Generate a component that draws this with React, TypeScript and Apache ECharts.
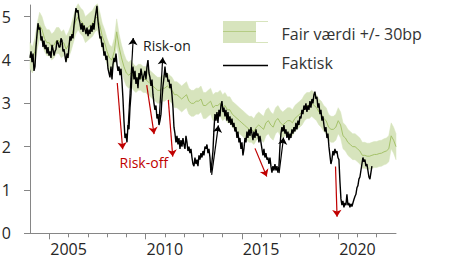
import React, { useEffect, useRef } from "react";
import * as echarts from "echarts";

// x-axis tick labels (years)
const yearLabels = [2005, 2010, 2015, 2020];
const minorYearTicks = [2004, 2005, 2006, 2007, 2008, 2009, 2010, 2011, 2012, 2013, 2014, 2015, 2016, 2017, 2018, 2019, 2020, 2021];
const majorYearTicks = [2004, 2009, 2014, 2019];
const yTickValues = [0, 1, 2, 3, 4, 5];

// Actual (Faktisk) series, regularly sampled
const actualStart = 2003.0;
const actualStep = 0.0519;
const actualValues = [
  4.05, 4.2, 3.95, 4.15, 3.75, 3.85, 4.3, 4.6, 4.85, 4.7,
  4.75, 4.45, 4.55, 4.3, 4.45, 4.25, 4.35, 4.15, 4.3, 4.1,
  4.2, 4.05, 4.35, 4.25, 4.1, 4.2, 4.25, 4.45, 4.4, 4.3,
  4.3, 4.5, 4.45, 4.2, 4.25, 4.1, 3.95, 4.15, 4.05, 4.3,
  4.55, 4.45, 4.6, 4.5, 4.8, 5.0, 5.2, 5.1, 5.15, 4.95,
  4.85, 4.7, 4.85, 4.65, 4.8, 4.7, 4.6, 4.75, 4.55, 4.7,
  4.6, 4.8, 4.65, 4.85, 4.7, 4.95, 5.1, 5.25, 4.9, 4.7,
  4.5, 4.55, 4.3, 4.4, 4.1, 4.2, 4.0, 4.1, 3.8, 3.7,
  3.6, 3.85, 3.55, 3.9, 4.05, 3.95, 4.15, 3.9, 3.75, 3.85,
  3.65, 3.8, 3.5, 3.1, 2.6, 2.2, 2.3, 2.1, 2.5, 2.4,
  2.9, 3.2, 3.7, 3.85, 3.55, 3.75, 3.45, 3.6, 3.35, 3.7,
  3.55, 3.8, 3.65, 3.5, 3.65, 3.75, 3.55, 3.85, 4.0, 3.7,
  3.6, 3.4, 3.55, 3.2, 3.0, 2.85, 2.95, 2.65, 2.75, 2.5,
  2.6, 2.75, 3.1, 3.4, 3.6, 3.85, 3.6, 3.7, 3.5, 3.55,
  3.35, 3.45, 3.2, 2.9, 2.45, 2.3, 2.1, 2.25, 2.05, 2.2,
  1.95, 2.15, 2.0, 2.2, 2.05, 1.95, 2.25, 2.1, 1.9, 2.0,
  1.85, 1.95, 1.75, 1.6, 1.55, 1.75, 1.6, 1.7, 1.55, 1.8,
  1.7, 1.85, 1.75, 1.9, 1.8, 2.0, 1.95, 2.05, 1.85, 1.95,
  1.75, 1.4, 1.65, 1.9, 2.4, 2.75, 2.6, 2.8, 2.55, 2.85,
  2.7, 2.95, 3.05, 2.8, 2.9, 2.7, 2.85, 2.6, 2.8, 2.55,
  2.7, 2.5, 2.65, 2.45, 2.55, 2.35, 2.45, 2.2, 2.35, 2.1,
  2.2, 1.95, 2.1, 1.8, 1.95, 2.2, 2.1, 2.35, 2.2, 2.4,
  2.25, 2.45, 2.3, 2.15, 2.35, 2.2, 2.4, 2.25, 2.3, 2.1,
  2.25, 2.1, 1.95, 1.8, 1.95, 1.75, 1.85, 1.7, 1.75, 1.6,
  1.75, 1.55, 1.4, 1.55, 1.45, 1.6, 1.45, 1.55, 1.4, 1.55,
  2.0, 2.3, 2.45, 2.35, 2.5, 2.3, 2.4, 2.2, 2.35, 2.15,
  2.3, 2.2, 2.4, 2.3, 2.45, 2.35, 2.55, 2.4, 2.6, 2.5,
  2.7, 2.65, 2.85, 2.75, 2.95, 2.85, 3.0, 2.8, 2.95, 2.85,
  3.05, 2.9, 3.1, 3.0, 3.2, 3.27, 3.1, 3.15, 2.9, 3.0,
  2.75, 2.85, 2.6, 2.7, 2.5, 2.35, 2.45, 2.2, 2.3, 2.0,
  1.8, 1.6, 1.7, 1.9, 1.8, 1.95, 1.85, 1.9, 1.75, 1.7,
  1.2, 0.8, 0.65, 0.75, 0.6, 0.7, 0.65, 0.9, 0.65, 0.7,
  0.6, 0.68, 0.62, 0.7, 0.78, 0.85, 0.9, 1.05, 1.1, 1.25,
  1.3, 1.45, 1.6, 1.75, 1.65, 1.7, 1.55, 1.6, 1.45, 1.3,
  1.25, 1.4, 1.55
];

// Fair value (Fair værdi), sampled every 1/8 year
const fairStart = 2003.0;
const fairStep = 0.125;
const fairValues = [
  4.1, 4.0, 4.2, 4.55, 4.8, 4.7, 4.5, 4.4, 4.4, 4.3,
  4.35, 4.45, 4.45, 4.35, 4.4, 4.25, 4.35, 4.5, 4.7, 4.9,
  5.0, 4.9, 4.85, 4.7, 4.75, 4.8, 4.85, 4.95, 5.0, 4.8,
  4.55, 4.4, 4.2, 4.05, 4.0, 4.2, 4.65, 4.3, 4.05, 3.85,
  3.7, 3.65, 3.7, 3.6, 3.55, 3.6, 3.6, 3.55, 3.55, 3.5,
  3.45, 3.4, 3.35, 3.3, 3.3, 3.35, 3.35, 3.4, 3.35, 3.3,
  3.2, 3.2, 3.15, 3.1, 3.15, 3.2, 3.05, 3.0, 3.0, 3.05,
  3.05, 3.1, 2.95, 2.95, 3.0, 3.05, 2.9, 2.95, 2.95, 3.0,
  2.9, 2.95, 2.85, 2.85, 2.75, 2.7, 2.65, 2.6, 2.55, 2.5,
  2.45, 2.4, 2.4, 2.35, 2.45, 2.5, 2.45, 2.4, 2.55, 2.6,
  2.5, 2.45, 2.6, 2.65, 2.55, 2.5, 2.55, 2.6, 2.6, 2.55,
  2.65, 2.7, 2.75, 2.8, 2.9, 2.95, 2.95, 3.0, 2.95, 2.9,
  2.8, 2.75, 2.65, 2.6, 2.45, 2.4, 2.4, 2.45, 2.6, 2.5,
  2.25, 2.2, 2.1, 2.05, 2.0, 2.0, 1.95, 1.9, 1.8, 1.8,
  1.78, 1.78, 1.8, 1.82, 1.82, 1.84, 1.85, 1.88, 1.9, 1.95,
  2.25, 2.15, 2.0
];
const bandHalfWidth = 0.3;

// Arrows: [start [year, value], end [year, value]]
const riskOnArrows = [
  [[2008.09, 2.43], [2008.36, 4.51]],
  [[2009.7, 2.57], [2009.89, 4.06]],
  [[2012.43, 1.35], [2012.78, 2.49]],
  [[2015.93, 1.39], [2016.16, 2.21]],
];
const riskOffArrows = [
  [[2007.53, 3.47], [2007.81, 1.94]],
  [[2009.06, 3.42], [2009.44, 2.29]],
  [[2010.18, 3.08], [2010.41, 1.77]],
  [[2014.68, 1.96], [2015.29, 1.31]],
  [[2018.86, 1.54], [2018.94, 0.38]],
];

const FONT = "'Open Sans', sans-serif";
const AXIS_COLOR = "#868686";
const TEXT_COLOR = "#262626";
const BAND_COLOR = "#d7e4bd";

export default function App() {
  const ref = useRef<HTMLDivElement>(null);

  useEffect(() => {
    if (!ref.current) return;
    const chart = echarts.init(ref.current, undefined, { renderer: "svg" });

    const actualData = actualValues.map((v, i) => [actualStart + i * actualStep, v]);
    const fairX = fairValues.map((_, i) => fairStart + i * fairStep);
    const fairData = fairValues.map((v, i) => [fairX[i], v]);
    const bandData = fairValues.map((v, i) => [fairX[i], v - bandHalfWidth, v + bandHalfWidth]);

    const arrowData = (arr: number[][][]) =>
      arr.map(([s, e]) => [{ coord: s }, { coord: e }]);

    chart.setOption({
      animation: false,
      grid: { left: 30, right: 56, top: 5, bottom: 29.7, outerBoundsMode: "none" },
      xAxis: [
        {
          type: "value",
          min: 2003,
          max: 2022,
          interval: 1,
          axisLine: { lineStyle: { color: AXIS_COLOR, width: 1 } },
          axisTick: { length: 4, customValues: minorYearTicks, lineStyle: { color: AXIS_COLOR } },
          axisLabel: {
            customValues: yearLabels,
            formatter: (v: number) => (yearLabels.includes(v) ? String(v) : ""),
            fontSize: 16,
            fontFamily: FONT,
            color: TEXT_COLOR,
            margin: 8,
          },
          splitLine: { show: false },
        },
        {
          type: "value",
          min: 2003,
          max: 2022,
          position: "bottom",
          axisLine: { show: false },
          axisTick: { length: 6, customValues: majorYearTicks, lineStyle: { color: AXIS_COLOR } },
          axisLabel: { show: false },
          splitLine: { show: false },
        },
      ],
      yAxis: {
        type: "value",
        min: 0,
        max: 5.27,
        interval: 1,
        axisLine: { show: true, lineStyle: { color: AXIS_COLOR, width: 1 } },
        axisTick: { show: true, length: 6, customValues: yTickValues, lineStyle: { color: AXIS_COLOR } },
        axisLabel: {
          customValues: yTickValues,
          formatter: (v: number) => (yTickValues.includes(v) ? String(v) : ""),
          fontSize: 16,
          fontFamily: FONT,
          color: TEXT_COLOR,
          margin: 19,
        },
        splitLine: { show: false },
      },
      series: [
        {
          type: "custom",
          data: bandData,
          encode: { x: 0, y: [1, 2] },
          silent: true,
          z: 1,
          renderItem: (params: any, api: any) => {
            if (params.dataIndex !== 0) return null;
            const upper = bandData.map((d) => api.coord([d[0], d[2]]));
            const lower = bandData.map((d) => api.coord([d[0], d[1]])).reverse();
            return {
              type: "polygon",
              shape: { points: upper.concat(lower) },
              style: { fill: BAND_COLOR, stroke: BAND_COLOR, lineWidth: 0.5 },
            };
          },
        },
        {
          type: "line",
          data: fairData,
          symbol: "none",
          silent: true,
          z: 2,
          lineStyle: { color: "#a5c26a", width: 1 },
          markLine: {
            silent: true,
            symbol: ["none", "arrow"],
            symbolSize: 7,
            lineStyle: { color: "#c00000", width: 1.2, type: "solid" },
            label: { show: false },
            emphasis: { disabled: true },
            data: arrowData(riskOffArrows),
          },
        },
        {
          type: "line",
          data: actualData,
          symbol: "none",
          silent: true,
          z: 3,
          lineStyle: { color: "#000000", width: 1.4 },
          markLine: {
            silent: true,
            symbol: ["none", "arrow"],
            symbolSize: 7,
            lineStyle: { color: "#000000", width: 1.2, type: "solid" },
            label: { show: false },
            emphasis: { disabled: true },
            data: arrowData(riskOnArrows),
          },
        },
      ],
      graphic: [
        { type: "rect", shape: { x: 223, y: 21, width: 33, height: 22 }, style: { fill: BAND_COLOR }, z: 10 },
        { type: "line", shape: { x1: 256, y1: 21.5, x2: 268, y2: 21.5 }, style: { stroke: BAND_COLOR, lineWidth: 1 }, z: 10 },
        { type: "line", shape: { x1: 256, y1: 42.5, x2: 268, y2: 42.5 }, style: { stroke: BAND_COLOR, lineWidth: 1 }, z: 10 },
        { type: "line", shape: { x1: 223, y1: 31.5, x2: 256, y2: 31.5 }, style: { stroke: "#b5cc84", lineWidth: 1 }, z: 11 },
        {
          type: "text",
          x: 281.5,
          y: 33.5,
          style: { text: "Fair værdi +/- 30bp", fontSize: 16, fontFamily: FONT, fill: "#333333", verticalAlign: "middle" },
          z: 10,
        },
        { type: "line", shape: { x1: 223, y1: 65.5, x2: 268, y2: 65.5 }, style: { stroke: "#000000", lineWidth: 1.3 }, z: 10 },
        {
          type: "text",
          x: 281.5,
          y: 63,
          style: { text: "Faktisk", fontSize: 16, fontFamily: FONT, fill: "#333333", verticalAlign: "middle" },
          z: 10,
        },
        {
          type: "text",
          x: 143,
          y: 45,
          style: { text: "Risk-on", fontSize: 14, fontFamily: FONT, fill: "#1a1a1a", verticalAlign: "middle" },
          z: 10,
        },
        {
          type: "text",
          x: 119.5,
          y: 162,
          style: { text: "Risk-off", fontSize: 14, fontFamily: FONT, fill: "#c00000", verticalAlign: "middle" },
          z: 10,
        },
      ],
    });

    return () => chart.dispose();
  }, []);

  return (
    <div
      ref={ref}
      style={{ position: "absolute", left: 0, top: 0, width: 452, height: 263, background: "#ffffff" }}
    />
  );
}
